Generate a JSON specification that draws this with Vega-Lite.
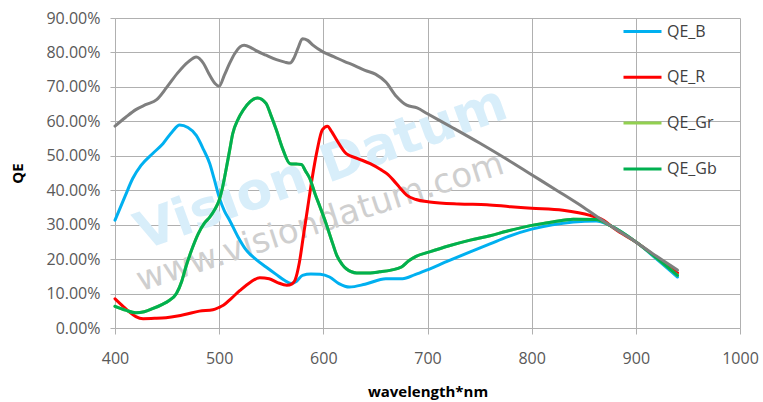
{
  "$schema": "https://vega.github.io/schema/vega-lite/v6.json",
  "width": 625,
  "height": 310,
  "autosize": "none",
  "padding": {"left": 115, "top": 18, "right": 23, "bottom": 74},
  "background": "white",
  "config": {
    "font": "Open Sans",
    "view": {"stroke": null},
    "axis": {
      "gridColor": "#B0B0B0", "gridWidth": 1, "domainColor": "#B0B0B0", "tickColor": "#B0B0B0",
      "labelColor": "#595959", "labelFontSize": 16, "labelFont": "Open Sans",
      "titleFont": "Open Sans", "titleFontSize": 15, "titleFontWeight": "bold", "titleColor": "#000000"
    },
    "legend": {
      "orient": "none", "legendX": 507, "legendY": -7,
      "symbolType": "stroke", "symbolSize": 1444, "symbolStrokeWidth": 3,
      "labelFontSize": 16, "labelColor": "#404040", "labelFont": "Open Sans",
      "rowPadding": 16.8, "labelOffset": 4, "padding": 0
    }
  },
  "datasets": {
    "watermark1": [{"nm": 598, "qe": 0.463, "text": "Vision Datum"}],
    "watermark2": [{"nm": 597, "qe": 0.306, "text": "www.visiondatum.com"}],
    "mono": [
      {"nm":400,"qe":0.586},{"nm":410,"qe":0.611},{"nm":420,"qe":0.634},{"nm":430,"qe":0.649},{"nm":440,"qe":0.663},
      {"nm":450,"qe":0.700},{"nm":460,"qe":0.740},{"nm":470,"qe":0.772},{"nm":478,"qe":0.787},{"nm":485,"qe":0.768},
      {"nm":490,"qe":0.739},{"nm":496,"qe":0.710},{"nm":500,"qe":0.702},{"nm":505,"qe":0.734},{"nm":510,"qe":0.768},
      {"nm":515,"qe":0.797},{"nm":520,"qe":0.816},{"nm":524,"qe":0.821},{"nm":530,"qe":0.815},{"nm":535,"qe":0.806},
      {"nm":545,"qe":0.792},{"nm":555,"qe":0.779},{"nm":563,"qe":0.772},{"nm":568,"qe":0.769},{"nm":572,"qe":0.785},
      {"nm":576,"qe":0.815},{"nm":580,"qe":0.840},{"nm":585,"qe":0.835},{"nm":590,"qe":0.821},{"nm":600,"qe":0.801},
      {"nm":610,"qe":0.788},{"nm":620,"qe":0.774},{"nm":630,"qe":0.762},{"nm":640,"qe":0.748},{"nm":650,"qe":0.737},
      {"nm":660,"qe":0.714},{"nm":670,"qe":0.673},{"nm":680,"qe":0.647},{"nm":690,"qe":0.639},{"nm":700,"qe":0.622},
      {"nm":725,"qe":0.580},{"nm":750,"qe":0.537},{"nm":775,"qe":0.492},{"nm":800,"qe":0.445},{"nm":825,"qe":0.398},
      {"nm":850,"qe":0.350},{"nm":875,"qe":0.298},{"nm":900,"qe":0.250},{"nm":920,"qe":0.208},{"nm":940,"qe":0.168}
    ],
    "qe_b": [
      {"series":"QE_B","nm":400,"qe":0.313},{"series":"QE_B","nm":410,"qe":0.385},{"series":"QE_B","nm":417,"qe":0.434},
      {"series":"QE_B","nm":425,"qe":0.472},{"series":"QE_B","nm":436,"qe":0.506},{"series":"QE_B","nm":446,"qe":0.535},
      {"series":"QE_B","nm":455,"qe":0.570},{"series":"QE_B","nm":462,"qe":0.589},{"series":"QE_B","nm":470,"qe":0.582},
      {"series":"QE_B","nm":478,"qe":0.559},{"series":"QE_B","nm":485,"qe":0.518},{"series":"QE_B","nm":491,"qe":0.477},
      {"series":"QE_B","nm":495,"qe":0.435},{"series":"QE_B","nm":500,"qe":0.380},{"series":"QE_B","nm":505,"qe":0.340},
      {"series":"QE_B","nm":510,"qe":0.313},{"series":"QE_B","nm":518,"qe":0.265},{"series":"QE_B","nm":526,"qe":0.226},
      {"series":"QE_B","nm":535,"qe":0.200},{"series":"QE_B","nm":545,"qe":0.177},{"series":"QE_B","nm":555,"qe":0.155},
      {"series":"QE_B","nm":563,"qe":0.138},{"series":"QE_B","nm":569,"qe":0.129},{"series":"QE_B","nm":574,"qe":0.135},
      {"series":"QE_B","nm":580,"qe":0.153},{"series":"QE_B","nm":588,"qe":0.157},{"series":"QE_B","nm":597,"qe":0.156},
      {"series":"QE_B","nm":606,"qe":0.148},{"series":"QE_B","nm":615,"qe":0.129},{"series":"QE_B","nm":625,"qe":0.119},
      {"series":"QE_B","nm":640,"qe":0.127},{"series":"QE_B","nm":660,"qe":0.143},{"series":"QE_B","nm":676,"qe":0.143},
      {"series":"QE_B","nm":688,"qe":0.155},{"series":"QE_B","nm":699,"qe":0.168},{"series":"QE_B","nm":720,"qe":0.195},
      {"series":"QE_B","nm":741,"qe":0.221},{"series":"QE_B","nm":760,"qe":0.244},{"series":"QE_B","nm":776,"qe":0.264},
      {"series":"QE_B","nm":800,"qe":0.287},{"series":"QE_B","nm":820,"qe":0.300},{"series":"QE_B","nm":840,"qe":0.308},
      {"series":"QE_B","nm":862,"qe":0.311},{"series":"QE_B","nm":875,"qe":0.298},{"series":"QE_B","nm":900,"qe":0.250},
      {"series":"QE_B","nm":920,"qe":0.200},{"series":"QE_B","nm":940,"qe":0.148}
    ],
    "qe_r": [
      {"series":"QE_R","nm":400,"qe":0.085},{"series":"QE_R","nm":407,"qe":0.065},{"series":"QE_R","nm":414,"qe":0.046},
      {"series":"QE_R","nm":420,"qe":0.033},{"series":"QE_R","nm":427,"qe":0.027},{"series":"QE_R","nm":438,"qe":0.028},
      {"series":"QE_R","nm":449,"qe":0.030},{"series":"QE_R","nm":460,"qe":0.035},{"series":"QE_R","nm":468,"qe":0.040},
      {"series":"QE_R","nm":481,"qe":0.049},{"series":"QE_R","nm":494,"qe":0.053},{"series":"QE_R","nm":500,"qe":0.060},
      {"series":"QE_R","nm":504,"qe":0.066},{"series":"QE_R","nm":512,"qe":0.087},{"series":"QE_R","nm":520,"qe":0.109},
      {"series":"QE_R","nm":530,"qe":0.133},{"series":"QE_R","nm":539,"qe":0.146},{"series":"QE_R","nm":548,"qe":0.143},
      {"series":"QE_R","nm":556,"qe":0.132},{"series":"QE_R","nm":565,"qe":0.124},{"series":"QE_R","nm":570,"qe":0.128},
      {"series":"QE_R","nm":573,"qe":0.140},{"series":"QE_R","nm":577,"qe":0.190},{"series":"QE_R","nm":581,"qe":0.270},
      {"series":"QE_R","nm":585,"qe":0.350},{"series":"QE_R","nm":589,"qe":0.430},{"series":"QE_R","nm":594,"qe":0.515},
      {"series":"QE_R","nm":599,"qe":0.575},{"series":"QE_R","nm":604,"qe":0.586},{"series":"QE_R","nm":608,"qe":0.570},
      {"series":"QE_R","nm":613,"qe":0.545},{"series":"QE_R","nm":622,"qe":0.506},{"series":"QE_R","nm":633,"qe":0.492},
      {"series":"QE_R","nm":645,"qe":0.477},{"series":"QE_R","nm":655,"qe":0.460},{"series":"QE_R","nm":661,"qe":0.448},
      {"series":"QE_R","nm":667,"qe":0.430},{"series":"QE_R","nm":673,"qe":0.409},{"series":"QE_R","nm":680,"qe":0.386},
      {"series":"QE_R","nm":689,"qe":0.373},{"series":"QE_R","nm":702,"qe":0.366},{"series":"QE_R","nm":730,"qe":0.360},
      {"series":"QE_R","nm":757,"qe":0.358},{"series":"QE_R","nm":780,"qe":0.352},{"series":"QE_R","nm":800,"qe":0.348},
      {"series":"QE_R","nm":830,"qe":0.342},{"series":"QE_R","nm":856,"qe":0.327},{"series":"QE_R","nm":869,"qe":0.313},
      {"series":"QE_R","nm":880,"qe":0.287},{"series":"QE_R","nm":900,"qe":0.250},{"series":"QE_R","nm":920,"qe":0.205},
      {"series":"QE_R","nm":940,"qe":0.160}
    ],
    "qe_gr": [
      {"series":"QE_Gr","nm":400,"qe":0.063},{"series":"QE_Gr","nm":410,"qe":0.052},{"series":"QE_Gr","nm":420,"qe":0.044},
      {"series":"QE_Gr","nm":428,"qe":0.047},{"series":"QE_Gr","nm":436,"qe":0.056},{"series":"QE_Gr","nm":445,"qe":0.068},
      {"series":"QE_Gr","nm":452,"qe":0.080},{"series":"QE_Gr","nm":459,"qe":0.100},{"series":"QE_Gr","nm":464,"qe":0.135},
      {"series":"QE_Gr","nm":468,"qe":0.177},{"series":"QE_Gr","nm":474,"qe":0.230},{"series":"QE_Gr","nm":480,"qe":0.274},
      {"series":"QE_Gr","nm":486,"qe":0.305},{"series":"QE_Gr","nm":491,"qe":0.322},{"series":"QE_Gr","nm":496,"qe":0.345},
      {"series":"QE_Gr","nm":500,"qe":0.371},{"series":"QE_Gr","nm":503,"qe":0.405},{"series":"QE_Gr","nm":506,"qe":0.450},
      {"series":"QE_Gr","nm":510,"qe":0.515},{"series":"QE_Gr","nm":513,"qe":0.564},{"series":"QE_Gr","nm":518,"qe":0.605},
      {"series":"QE_Gr","nm":523,"qe":0.632},{"series":"QE_Gr","nm":530,"qe":0.658},{"series":"QE_Gr","nm":537,"qe":0.668},
      {"series":"QE_Gr","nm":545,"qe":0.652},{"series":"QE_Gr","nm":550,"qe":0.615},{"series":"QE_Gr","nm":555,"qe":0.574},
      {"series":"QE_Gr","nm":561,"qe":0.520},{"series":"QE_Gr","nm":568,"qe":0.477},{"series":"QE_Gr","nm":574,"qe":0.476},
      {"series":"QE_Gr","nm":579,"qe":0.475},{"series":"QE_Gr","nm":583,"qe":0.455},{"series":"QE_Gr","nm":587,"qe":0.434},
      {"series":"QE_Gr","nm":592,"qe":0.390},{"series":"QE_Gr","nm":597,"qe":0.350},{"series":"QE_Gr","nm":603,"qe":0.300},
      {"series":"QE_Gr","nm":609,"qe":0.245},{"series":"QE_Gr","nm":613,"qe":0.210},{"series":"QE_Gr","nm":618,"qe":0.185},
      {"series":"QE_Gr","nm":622,"qe":0.172},{"series":"QE_Gr","nm":632,"qe":0.160},{"series":"QE_Gr","nm":645,"qe":0.160},
      {"series":"QE_Gr","nm":654,"qe":0.163},{"series":"QE_Gr","nm":665,"qe":0.168},{"series":"QE_Gr","nm":675,"qe":0.177},
      {"series":"QE_Gr","nm":682,"qe":0.195},{"series":"QE_Gr","nm":689,"qe":0.208},{"series":"QE_Gr","nm":702,"qe":0.221},
      {"series":"QE_Gr","nm":720,"qe":0.238},{"series":"QE_Gr","nm":741,"qe":0.255},{"series":"QE_Gr","nm":760,"qe":0.268},
      {"series":"QE_Gr","nm":776,"qe":0.281},{"series":"QE_Gr","nm":800,"qe":0.298},{"series":"QE_Gr","nm":820,"qe":0.308},
      {"series":"QE_Gr","nm":840,"qe":0.316},{"series":"QE_Gr","nm":862,"qe":0.315},{"series":"QE_Gr","nm":875,"qe":0.298},
      {"series":"QE_Gr","nm":900,"qe":0.250},{"series":"QE_Gr","nm":920,"qe":0.203},{"series":"QE_Gr","nm":940,"qe":0.153}
    ],
    "qe_gb": [
      {"series":"QE_Gb","nm":400,"qe":0.063},{"series":"QE_Gb","nm":410,"qe":0.052},{"series":"QE_Gb","nm":420,"qe":0.044},
      {"series":"QE_Gb","nm":428,"qe":0.047},{"series":"QE_Gb","nm":436,"qe":0.056},{"series":"QE_Gb","nm":445,"qe":0.068},
      {"series":"QE_Gb","nm":452,"qe":0.080},{"series":"QE_Gb","nm":459,"qe":0.100},{"series":"QE_Gb","nm":464,"qe":0.135},
      {"series":"QE_Gb","nm":468,"qe":0.177},{"series":"QE_Gb","nm":474,"qe":0.230},{"series":"QE_Gb","nm":480,"qe":0.274},
      {"series":"QE_Gb","nm":486,"qe":0.305},{"series":"QE_Gb","nm":491,"qe":0.322},{"series":"QE_Gb","nm":496,"qe":0.345},
      {"series":"QE_Gb","nm":500,"qe":0.371},{"series":"QE_Gb","nm":503,"qe":0.405},{"series":"QE_Gb","nm":506,"qe":0.450},
      {"series":"QE_Gb","nm":510,"qe":0.515},{"series":"QE_Gb","nm":513,"qe":0.564},{"series":"QE_Gb","nm":518,"qe":0.605},
      {"series":"QE_Gb","nm":523,"qe":0.632},{"series":"QE_Gb","nm":530,"qe":0.658},{"series":"QE_Gb","nm":537,"qe":0.668},
      {"series":"QE_Gb","nm":545,"qe":0.652},{"series":"QE_Gb","nm":550,"qe":0.615},{"series":"QE_Gb","nm":555,"qe":0.574},
      {"series":"QE_Gb","nm":561,"qe":0.520},{"series":"QE_Gb","nm":568,"qe":0.477},{"series":"QE_Gb","nm":574,"qe":0.476},
      {"series":"QE_Gb","nm":579,"qe":0.475},{"series":"QE_Gb","nm":583,"qe":0.455},{"series":"QE_Gb","nm":587,"qe":0.434},
      {"series":"QE_Gb","nm":592,"qe":0.390},{"series":"QE_Gb","nm":597,"qe":0.350},{"series":"QE_Gb","nm":603,"qe":0.300},
      {"series":"QE_Gb","nm":609,"qe":0.245},{"series":"QE_Gb","nm":613,"qe":0.210},{"series":"QE_Gb","nm":618,"qe":0.185},
      {"series":"QE_Gb","nm":622,"qe":0.172},{"series":"QE_Gb","nm":632,"qe":0.160},{"series":"QE_Gb","nm":645,"qe":0.160},
      {"series":"QE_Gb","nm":654,"qe":0.163},{"series":"QE_Gb","nm":665,"qe":0.168},{"series":"QE_Gb","nm":675,"qe":0.177},
      {"series":"QE_Gb","nm":682,"qe":0.195},{"series":"QE_Gb","nm":689,"qe":0.208},{"series":"QE_Gb","nm":702,"qe":0.221},
      {"series":"QE_Gb","nm":720,"qe":0.238},{"series":"QE_Gb","nm":741,"qe":0.255},{"series":"QE_Gb","nm":760,"qe":0.268},
      {"series":"QE_Gb","nm":776,"qe":0.281},{"series":"QE_Gb","nm":800,"qe":0.298},{"series":"QE_Gb","nm":820,"qe":0.308},
      {"series":"QE_Gb","nm":840,"qe":0.316},{"series":"QE_Gb","nm":862,"qe":0.315},{"series":"QE_Gb","nm":875,"qe":0.298},
      {"series":"QE_Gb","nm":900,"qe":0.250},{"series":"QE_Gb","nm":920,"qe":0.203},{"series":"QE_Gb","nm":940,"qe":0.153}
    ]
  },
  "encoding": {
    "x": {
      "field": "nm", "type": "quantitative",
      "scale": {"domain": [400, 1000], "nice": false, "zero": false},
      "axis": {"values": [400, 500, 600, 700, 800, 900, 1000], "format": "d", "title": "wavelength*nm", "tickSize": 6, "labelPadding": 16, "titlePadding": 18, "grid": true, "labelFlush": false}
    },
    "y": {
      "field": "qe", "type": "quantitative",
      "scale": {"domain": [0, 0.9], "nice": false},
      "axis": {"values": [0, 0.1, 0.2, 0.3, 0.4, 0.5, 0.6, 0.7, 0.8, 0.9], "format": ".2%", "title": "QE", "tickSize": 5, "labelPadding": 10, "titleX": -98, "titleY": 155, "titleBaseline": "middle", "grid": true}
    }
  },
  "layer": [
    {
      "data": {"name": "watermark1"},
      "mark": {"type": "text", "font": "DejaVu Sans", "fontWeight": "bold", "fontSize": 52, "angle": 340, "color": "#D8EEFA", "align": "center", "baseline": "middle"},
      "encoding": {"text": {"field": "text"}}
    },
    {
      "data": {"name": "watermark2"},
      "mark": {"type": "text", "font": "DejaVu Sans", "fontSize": 34, "angle": 342, "color": "#CFCFCF", "align": "center", "baseline": "middle"},
      "encoding": {"text": {"field": "text"}}
    },
    {
      "data": {"name": "qe_b"},
      "mark": {"type": "line", "interpolate": "monotone", "strokeWidth": 3, "strokeCap": "round"},
      "encoding": {"color": {"field": "series", "type": "nominal", "scale": {"domain": ["QE_B", "QE_R", "QE_Gr", "QE_Gb"], "range": ["#00B0F0", "#FF0000", "#92D050", "#00B050"]}, "legend": {"title": null}}}
    },
    {
      "data": {"name": "qe_r"},
      "mark": {"type": "line", "interpolate": "monotone", "strokeWidth": 3, "strokeCap": "round"},
      "encoding": {"color": {"field": "series", "type": "nominal", "scale": {"domain": ["QE_B", "QE_R", "QE_Gr", "QE_Gb"], "range": ["#00B0F0", "#FF0000", "#92D050", "#00B050"]}, "legend": {"title": null}}}
    },
    {
      "data": {"name": "qe_gr"},
      "mark": {"type": "line", "interpolate": "monotone", "strokeWidth": 3, "strokeCap": "round"},
      "encoding": {"color": {"field": "series", "type": "nominal", "scale": {"domain": ["QE_B", "QE_R", "QE_Gr", "QE_Gb"], "range": ["#00B0F0", "#FF0000", "#92D050", "#00B050"]}, "legend": {"title": null}}}
    },
    {
      "data": {"name": "qe_gb"},
      "mark": {"type": "line", "interpolate": "monotone", "strokeWidth": 3, "strokeCap": "round"},
      "encoding": {"color": {"field": "series", "type": "nominal", "scale": {"domain": ["QE_B", "QE_R", "QE_Gr", "QE_Gb"], "range": ["#00B0F0", "#FF0000", "#92D050", "#00B050"]}, "legend": {"title": null}}}
    },
    {
      "data": {"name": "mono"},
      "mark": {"type": "line", "interpolate": "monotone", "strokeWidth": 3, "strokeCap": "round", "color": "#7F7F7F"},
      "encoding": {}
    }
  ]
}
